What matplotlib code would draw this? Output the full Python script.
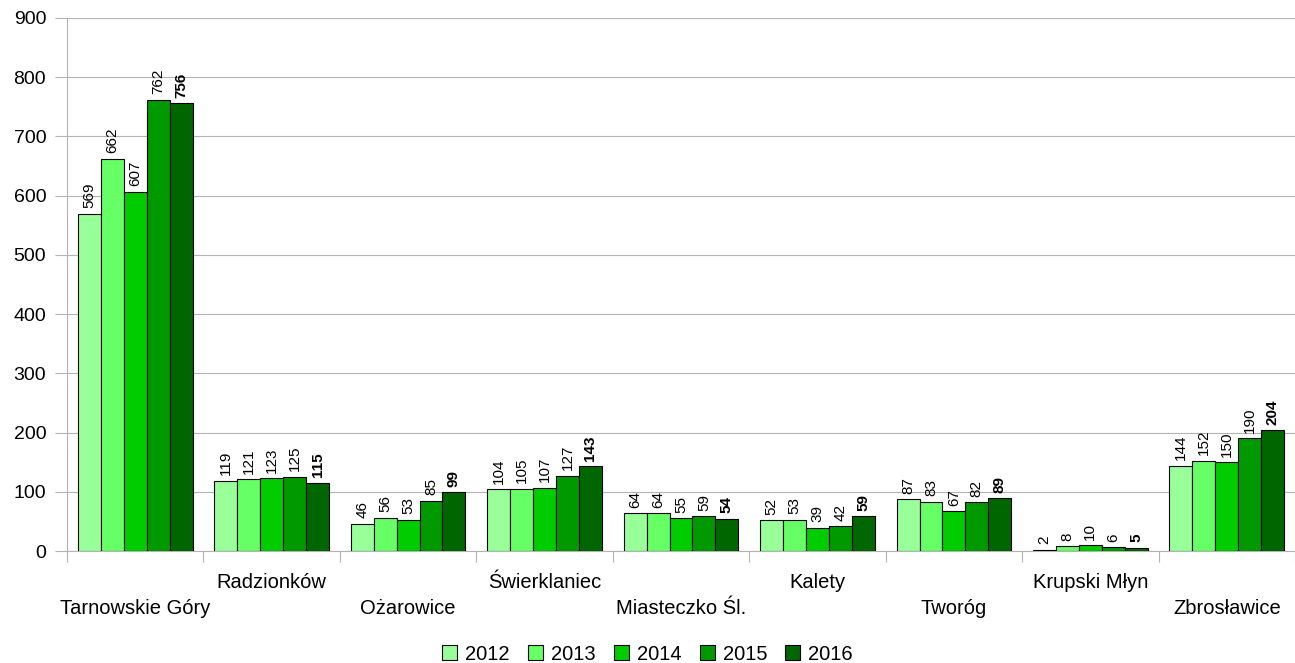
import numpy as np
import matplotlib.pyplot as plt

plt.rcParams['font.family'] = ['Liberation Sans', 'DejaVu Sans']

# Data
places = ["Tarnowskie Góry", "Radzionków", "Ożarowice", "Świerklaniec",
          "Miasteczko Śl.", "Kalety", "Tworóg", "Krupski Młyn", "Zbrosławice"]
years = ["2012", "2013", "2014", "2015", "2016"]
v2012 = [569, 119, 46, 104, 64, 52, 87, 2, 144]
v2013 = [662, 121, 56, 105, 64, 53, 83, 8, 152]
v2014 = [607, 123, 53, 107, 55, 39, 67, 10, 150]
v2015 = [762, 125, 85, 127, 59, 42, 82, 6, 190]
v2016 = [756, 115, 99, 143, 54, 59, 89, 5, 204]
series = [v2012, v2013, v2014, v2015, v2016]
colors = ["#99ff99", "#66ff66", "#00cc00", "#009900", "#006600"]

fig = plt.figure(figsize=(12.95, 6.63), dpi=100)
ax = fig.add_axes([67 / 1295, 1 - 551 / 663, (1295 - 67) / 1295, 533 / 663])

x = np.arange(len(places))
bw = 0.168
for i, (vals, col) in enumerate(zip(series, colors)):
    pos = x + (i - 2) * bw
    bars = ax.bar(pos, vals, bw, color=col, edgecolor="black", linewidth=0.8,
                  label=years[i], zorder=3)
    for b, v in zip(bars, vals):
        ax.annotate(str(v), (b.get_x() + b.get_width() / 2, v),
                    xytext=(0, 4), textcoords="offset points",
                    rotation=90, ha="center", va="bottom", fontsize=11,
                    fontweight="bold" if i == 4 else "normal")

ax.set_xlim(-0.5, len(places) - 0.5)
ax.set_ylim(0, 900)
ax.set_yticks(range(0, 901, 100))
ax.yaxis.grid(True, color="#b3b3b3", linewidth=0.8, zorder=0)
ax.tick_params(axis="y", length=9, color="#b3b3b3", width=0.8, labelsize=14, pad=6)

ax.set_xticks(np.arange(len(places) + 1) - 0.5)
ax.set_xticklabels([])
ax.tick_params(axis="x", length=8, color="#b3b3b3", width=0.8)
for i, name in enumerate(places):
    y = 551 + (57 if i % 2 == 0 else 32)
    ax.text(i, 1 - (y - 18) / 533, name, transform=ax.get_xaxis_transform(),
            ha="center", va="center", fontsize=14.5)

for s in ["top", "right"]:
    ax.spines[s].set_visible(False)
ax.spines["left"].set_color("#b3b3b3")
ax.spines["bottom"].set_color("#b3b3b3")

fig.legend(loc="center", ncol=5, frameon=False, fontsize=14.5,
           handlelength=0.75, handleheight=0.75, handletextpad=0.4,
           columnspacing=0.9, bbox_to_anchor=(0.5, 1 - 654 / 663))

fig.savefig("out.png", dpi=100)
